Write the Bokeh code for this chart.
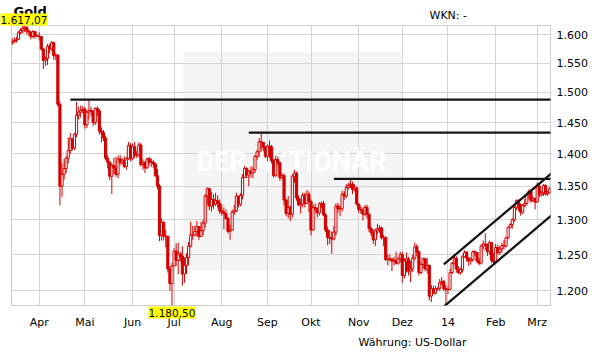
import numpy as np
import pandas as pd
from bokeh.plotting import figure
from bokeh.models import ColumnDataSource, Range1d, FixedTicker, Label
from bokeh.core.properties import value
from bokeh.embed import file_html
from bokeh.resources import INLINE

# ---------------- data (Gold, USD per ounce, daily) ----------------
dates = pd.bdate_range("2013-03-13", "2014-03-11")
first_open = 1586.0

close = [
    # Mar 2013 (from 13th)
    1588, 1590, 1592, 1604, 1608, 1612, 1614, 1607, 1605, 1597, 1606, 1598, 1598,
    # Apr
    1597, 1575, 1555, 1558, 1580, 1575, 1586, 1563, 1564, 1480, 1350, 1368, 1377, 1393, 1405,
    1424, 1409, 1431, 1462, 1467, 1470, 1472,
    # May
    1446, 1467, 1470, 1468, 1450, 1473, 1469, 1436, 1434, 1425, 1393, 1387, 1365, 1382, 1378,
    1368, 1392, 1386, 1390, 1380, 1392, 1413, 1393,
    # Jun
    1411, 1398, 1398, 1414, 1383, 1386, 1378, 1392, 1387, 1387, 1384, 1366, 1350, 1277, 1296,
    1276, 1276, 1230, 1210, 1234,
    # Jul
    1255, 1242, 1251, 1248, 1223, 1235, 1246, 1262, 1278, 1278, 1283, 1290, 1276, 1284, 1295,
    1335, 1346, 1320, 1330, 1323, 1328, 1324, 1313,
    # Aug
    1311, 1309, 1302, 1283, 1285, 1311, 1313, 1335, 1323, 1336, 1363, 1377, 1367, 1372, 1370,
    1375, 1396, 1403, 1419, 1418, 1410, 1396,
    # Sep
    1412, 1411, 1389, 1366, 1391, 1386, 1363, 1366, 1329, 1309, 1318, 1308, 1365, 1370, 1332,
    1322, 1323, 1336, 1324, 1338, 1327,
    # Oct
    1285, 1318, 1316, 1310, 1323, 1324, 1307, 1285, 1274, 1274, 1272, 1282, 1320, 1316, 1316,
    1338, 1335, 1348, 1351, 1353, 1345, 1347, 1323,
    # Nov
    1315, 1314, 1308, 1318, 1308, 1287, 1281, 1271, 1284, 1287, 1288, 1274, 1274, 1243, 1244,
    1244, 1241, 1242, 1238, 1244, 1250,
    # Dec
    1221, 1241, 1244, 1227, 1230, 1245, 1261, 1254, 1225, 1236, 1244, 1230, 1235, 1193, 1203,
    1197, 1203, 1203, 1211, 1213, 1203, 1202,
    # Jan 2014
    1202, 1225, 1238, 1245, 1230, 1225, 1229, 1247, 1253, 1245, 1241, 1243, 1254, 1253, 1241,
    1238, 1262, 1265, 1264, 1254, 1267, 1242, 1240,
    # Feb
    1260, 1253, 1258, 1263, 1262, 1274, 1289, 1293, 1300, 1318, 1328, 1322, 1311, 1321, 1324,
    1337, 1342, 1328, 1331, 1326,
    # Mar
    1350, 1337, 1340, 1351, 1338, 1340, 1346,
]

high = [
    1594, 1596, 1597, 1607, 1612, 1617.07, 1616, 1615, 1610, 1607, 1609, 1604, 1600,
    1605, 1598, 1577, 1562, 1584, 1584, 1589, 1588, 1568, 1566, 1485, 1385, 1392, 1397, 1426,
    1433, 1424, 1433, 1484, 1476, 1478, 1477,
    1476, 1470, 1488, 1476, 1470, 1475, 1477, 1472, 1442, 1438, 1429, 1398, 1388, 1385, 1394,
    1395, 1397, 1398, 1393, 1396, 1395, 1419, 1417,
    1416, 1419, 1404, 1418, 1417, 1391, 1389, 1394, 1395, 1393, 1390, 1386, 1376, 1353, 1302,
    1298, 1285, 1277, 1234, 1239,
    1259, 1266, 1267, 1254, 1262, 1246, 1252, 1268, 1297, 1291, 1291, 1298, 1290, 1297, 1300,
    1338, 1348, 1348, 1341, 1338, 1340, 1336, 1330,
    1322, 1318, 1315, 1304, 1293, 1315, 1322, 1340, 1335, 1339, 1368, 1381, 1379, 1375, 1380,
    1380, 1398, 1406, 1425, 1433.8, 1418, 1412,
    1415, 1421, 1414, 1392, 1397, 1395, 1388, 1370, 1369, 1331, 1335, 1321, 1368, 1375, 1372,
    1336, 1331, 1340, 1340, 1344, 1342,
    1330, 1322, 1324, 1318, 1326, 1327, 1328, 1310, 1290, 1285, 1283, 1291, 1324, 1325, 1321,
    1343, 1342, 1353, 1355, 1361, 1357, 1353, 1350,
    1324, 1320, 1318, 1322, 1322, 1309, 1290, 1286, 1287, 1294, 1292, 1290, 1278, 1276, 1250,
    1250, 1244, 1247, 1254, 1247, 1254,
    1254, 1245, 1253, 1247, 1241, 1250, 1267, 1265, 1256, 1239, 1246, 1246, 1245, 1236, 1208,
    1207, 1207, 1205, 1216, 1219, 1215, 1208,
    1205, 1230, 1240, 1251, 1248, 1234, 1232, 1249, 1256, 1255, 1247, 1246, 1256, 1256, 1253,
    1245, 1265, 1270, 1280, 1266, 1270, 1268, 1253,
    1265, 1264, 1262, 1267, 1271, 1275, 1290, 1295, 1302, 1320, 1330, 1330, 1324, 1323, 1331,
    1340, 1345, 1345, 1335, 1333,
    1355, 1354, 1343, 1353, 1353, 1343, 1349,
]

low = [
    1582, 1585, 1586, 1591, 1601, 1603, 1605, 1601, 1598, 1592, 1594, 1593, 1596,
    1590, 1572, 1540, 1545, 1547, 1567, 1571, 1556, 1555, 1476, 1321, 1334, 1360, 1370, 1385,
    1400, 1405, 1406, 1426, 1455, 1458, 1465,
    1440, 1441, 1455, 1460, 1444, 1446, 1460, 1430, 1418, 1420, 1390, 1377, 1359, 1338, 1368,
    1364, 1362, 1382, 1384, 1378, 1375, 1390, 1388,
    1390, 1393, 1393, 1395, 1380, 1375, 1370, 1376, 1381, 1379, 1378, 1364, 1345, 1269, 1270,
    1270, 1260, 1225, 1200, 1180.5,
    1234, 1234, 1223, 1240, 1207, 1211, 1223, 1235, 1260, 1271, 1276, 1275, 1271, 1275, 1277,
    1289, 1322, 1314, 1312, 1316, 1320, 1318, 1308,
    1306, 1286, 1300, 1280, 1271, 1284, 1307, 1311, 1318, 1320, 1330, 1363, 1362, 1350, 1363,
    1362, 1370, 1390, 1394, 1405, 1404, 1393,
    1388, 1393, 1385, 1363, 1364, 1381, 1358, 1360, 1321, 1305, 1302, 1298, 1303, 1355, 1328,
    1320, 1309, 1318, 1318, 1323, 1311,
    1277, 1284, 1311, 1303, 1306, 1317, 1305, 1282, 1263, 1265, 1251, 1270, 1277, 1310, 1305,
    1312, 1329, 1332, 1345, 1347, 1338, 1342, 1321,
    1310, 1309, 1299, 1305, 1302, 1282, 1276, 1265, 1262, 1279, 1281, 1271, 1262, 1241, 1235,
    1240, 1227, 1235, 1236, 1236, 1239,
    1211, 1217, 1225, 1221, 1212, 1226, 1242, 1248, 1221, 1223, 1230, 1227, 1224, 1187, 1185,
    1196, 1195, 1200, 1200, 1208, 1200, 1182,
    1196, 1202, 1223, 1236, 1225, 1223, 1222, 1225, 1246, 1240, 1234, 1236, 1240, 1248, 1238,
    1235, 1236, 1257, 1256, 1248, 1250, 1238, 1238,
    1240, 1250, 1249, 1253, 1257, 1260, 1272, 1287, 1287, 1297, 1314, 1313, 1306, 1308, 1318,
    1321, 1330, 1325, 1326, 1315,
    1326, 1333, 1334, 1335, 1336, 1335, 1339,
]

# opening price = previous close (24h market)
open_ = [first_open] + close[:-1]

month_labels = ["Apr", "Mai", "Jun", "Jul", "Aug", "Sep", "Okt", "Nov", "Dez", "14", "Feb", "Mrz"]
y_ticks = [1200, 1250, 1300, 1350, 1400, 1450, 1500, 1550, 1600]

# drawn resistance lines (level, start date) and trend channel (date, value pairs)
hline_levels = [1487.9, 1433.8, 1361.0]
hline_start = ["2013-04-22", "2013-08-20", "2013-10-16"]
chan_start_date = "2013-12-30"
chan_end_date = "2014-03-13"
chan_upper = [1236.2, 1372.4]
chan_lower = [1179.1, 1309.3]

assert len(close) == len(high) == len(low) == len(dates) == 260

# ---------------- geometry helpers ----------------
RED = "#d40000"
FONT = "DejaVu Sans"
start = dates[0].strftime("%Y-%m-%d")


def xi(d):
    return float(np.busday_count(start, d))


x = np.arange(len(dates))
y_lo, y_hi = min(low), max(high)
x_lo, x_hi = -0.35, 259.41

W, H = 595, 348
FL, FT, FW, FH = 11, 25, 539, 280  # plot frame in canvas pixels


def px_x(px):
    return x_lo + (px - FL) * (x_hi - x_lo) / FW


def px_y(py):
    return y_hi * (y_lo / y_hi) ** ((py - FT) / FH)


def de(v, dec=2):
    s = f"{v:,.{dec}f}"
    return s.replace(",", "#").replace(".", ",").replace("#", ".")


# ---------------- figure ----------------
p = figure(width=W, height=H, x_range=Range1d(x_lo, x_hi), y_range=Range1d(y_lo, y_hi),
           y_axis_type="log", y_axis_location="right", output_backend="svg",
           toolbar_location=None, min_border_left=FL, min_border_right=W - FL - FW,
           min_border_top=FT, min_border_bottom=H - FT - FH)
p.background_fill_color = "white"
p.border_fill_color = "white"
p.outline_line_color = "#cccccc"

# watermark
p.quad(left=[px_x(183)], right=[px_x(401)], top=[px_y(52)], bottom=[px_y(270)],
       fill_color="#f4f4f4", line_color=None, level="image")

# axes
month_idx = [i for i in range(1, len(dates)) if dates[i].month != dates[i - 1].month]
p.xaxis.ticker = FixedTicker(ticks=month_idx)
p.xaxis.major_label_overrides = {int(i): lab for i, lab in zip(month_idx, month_labels)}
p.yaxis.ticker = FixedTicker(ticks=y_ticks)
p.yaxis.major_label_overrides = {t: de(t, 0) for t in y_ticks}
for ax in (p.xaxis, p.yaxis):
    ax.axis_line_color = None
    ax.major_tick_line_color = None
    ax.minor_tick_line_color = None
    ax.major_tick_out = 0
    ax.major_tick_in = 0
    ax.minor_tick_out = 0
    ax.minor_tick_in = 0
    ax.major_label_text_font = FONT
    ax.major_label_text_font_size = "11px"
    ax.major_label_text_color = "#000000"
p.xaxis.major_label_standoff = 10
p.yaxis.major_label_standoff = 6
p.xgrid.grid_line_color = "#d3d3d3"
p.ygrid.grid_line_color = "#d3d3d3"
p.ygrid.minor_grid_line_color = None

wm = Label(x=px_x(291), y=px_y(161), text="DER AKTIONÄR", text_align="center",
           text_baseline="middle", text_font="Roboto", text_font_size="27px",
           text_font_style="bold", text_color="white", level="underlay")
p.add_layout(wm)

# candles
o = np.array(open_, dtype=float)
c = np.array(close, dtype=float)
up = c >= o
src = ColumnDataSource(dict(
    x=x, high=high, low=low,
    top=np.maximum(o, c), bottom=np.minimum(o, c),
    fill=np.where(up, "white", RED),
))
p.segment(x0="x", y0="low", x1="x", y1="high", source=src, line_color=RED, line_width=1)
p.vbar(x="x", width=1.05, top="top", bottom="bottom", source=src,
       fill_color="fill", line_color=RED, line_width=1)

# resistance lines
p.segment(x0=[xi(d) for d in hline_start], x1=[x_hi + 2] * len(hline_levels),
          y0=hline_levels, y1=hline_levels, line_color="#151515", line_width=2.3)
# trend channel
cx0, cx1 = xi(chan_start_date), xi(chan_end_date)
p.segment(x0=[cx0, cx0], x1=[cx1, cx1], y0=[chan_upper[0], chan_lower[0]],
          y1=[chan_upper[1], chan_lower[1]], line_color="#151515", line_width=2.3)

# ---------------- texts outside the frame (glyphs at annotation level) ----------------
def txt(px, py, s, align="left", size="11px", style="normal"):
    p.text(x=[px_x(px)], y=[px_y(py)], text=[s], text_align=align, text_baseline="middle",
           text_font=value(FONT), text_font_size=value(size), text_font_style=style,
           text_color="#000000", level="annotation")


txt(13, 11, "Gold", size="13px", style="bold")
txt(429, 15, "WKN: -")
txt(358, 342, "Währung: US-Dollar")

# yellow max / min markers
imin = int(np.argmin(low))
p.rect(x=[px_x(23.5), float(imin)], y=[px_y(19), px_y(312)], width=47, height=12,
       width_units="screen", height_units="screen", fill_color="#ffff00", line_color=None,
       level="annotation")
p.text(x=[px_x(23.5), float(imin)], y=[px_y(19.5), px_y(312.5)],
       text=[de(max(high)), de(min(low))], text_align="center", text_baseline="middle",
       text_font=value(FONT), text_font_size=value("10.5px"), text_color="#000000",
       level="annotation")

open("out.html", "w").write(file_html(p, INLINE))
